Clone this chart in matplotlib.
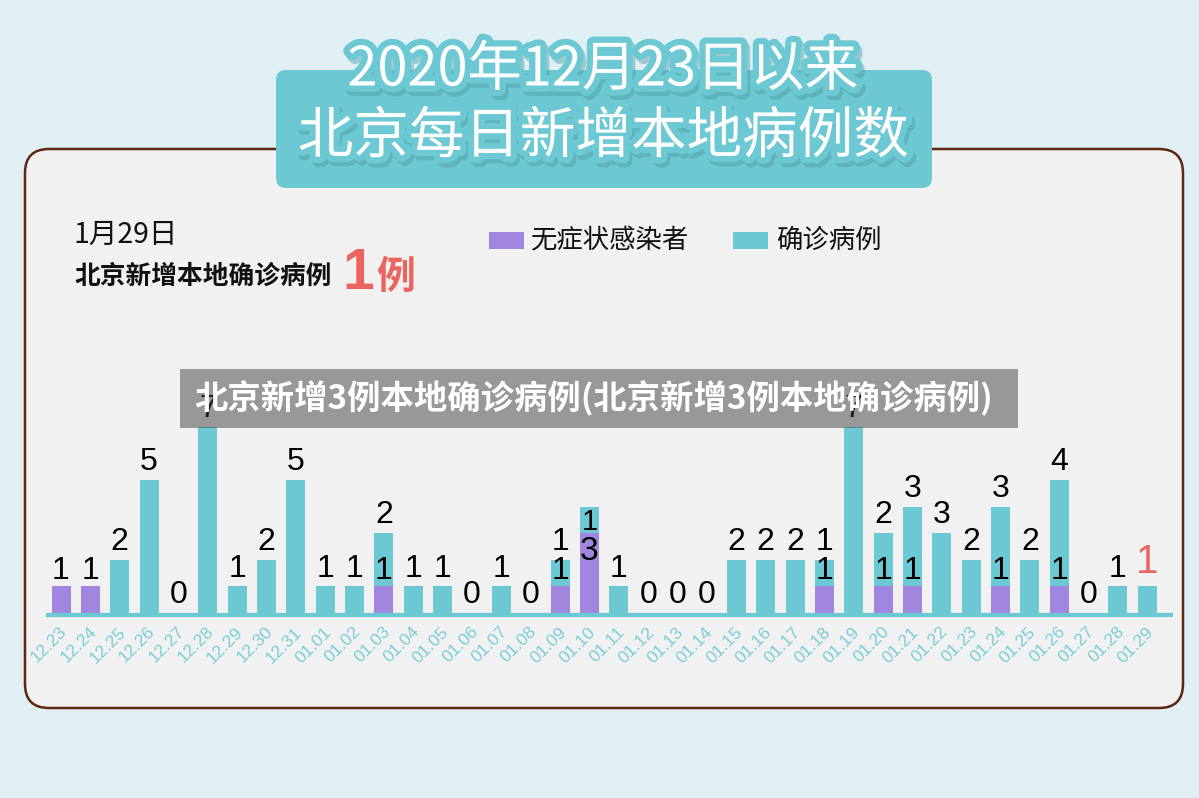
import matplotlib
matplotlib.use('Agg')
import matplotlib.pyplot as plt
from matplotlib.patches import FancyBboxPatch, Rectangle
import matplotlib.patheffects as pe

# ---------------- data ----------------
dates = ['12.23', '12.24', '12.25', '12.26', '12.27', '12.28', '12.29', '12.30', '12.31',
         '01.01', '01.02', '01.03', '01.04', '01.05', '01.06', '01.07', '01.08', '01.09',
         '01.10', '01.11', '01.12', '01.13', '01.14', '01.15', '01.16', '01.17', '01.18',
         '01.19', '01.20', '01.21', '01.22', '01.23', '01.24', '01.25', '01.26', '01.27',
         '01.28', '01.29']
asymptomatic = [1, 1, 0, 0, 0, 0, 0, 0, 0, 0, 0, 1, 0, 0, 0, 0, 0, 1, 3, 0, 0, 0, 0, 0, 0, 0,
                1, 0, 1, 1, 0, 0, 1, 0, 1, 0, 0, 0]
confirmed = [0, 0, 2, 5, 0, 7, 1, 2, 5, 1, 1, 2, 1, 1, 0, 1, 0, 1, 1, 1, 0, 0, 0, 2, 2, 2,
             1, 7, 2, 3, 3, 2, 3, 2, 4, 0, 1, 1]
inside_label_dates = ['01.10']
highlight_date = '01.29'
series_names = ['无症状感染者', '确诊病例']

TEAL = '#6cc9d3'
PURPLE = '#a086de'
TICK = '#7ccdd6'
RED = '#ec6460'
BG = '#e0eff3'
PANEL = '#f1f1f1'
BORDER = '#5c2611'

CJK = ['Noto Sans CJK SC', 'DejaVu Sans']
NUM = ['Liberation Sans', 'DejaVu Sans']

W, H = 1199, 798
fig = plt.figure(figsize=(W / 100, H / 100), dpi=100)
fig.patch.set_facecolor(BG)

# ---------------- decoration axes (pixel coords) ----------------
deco = fig.add_axes([0, 0, 1, 1], zorder=0)
deco.set_xlim(0, W)
deco.set_ylim(H, 0)
deco.axis('off')

panel = FancyBboxPatch((25, 149), 1158, 559, boxstyle='round,pad=0,rounding_size=24',
                       facecolor=PANEL, edgecolor=BORDER, linewidth=1.8)
deco.add_patch(panel)
tbox = FancyBboxPatch((276, 70), 656, 118, boxstyle='round,pad=0,rounding_size=10',
                      facecolor='#6cc8d2', edgecolor='none')
deco.add_patch(tbox)

title_fx = [pe.Stroke(linewidth=9, foreground='#4f9aa4', alpha=0.45, offset=(2, -3)),
            pe.Stroke(linewidth=9, foreground='#6cc8d2'), pe.Normal()]
deco.text(603, 70, '2020年12月23日以来', fontsize=39, color='white', ha='center', va='center',
          family=CJK, fontweight='medium', path_effects=title_fx)
deco.text(603, 137, '北京每日新增本地病例数', fontsize=40, color='white', ha='center', va='center',
          family=CJK, fontweight='medium', path_effects=title_fx)

deco.text(74, 235, '1月29日', fontsize=20.5, color='#111111', ha='left', va='center', family=CJK)
deco.text(74, 276, '北京新增本地确诊病例', fontsize=18.5, color='#111111', ha='left', va='center',
          family=CJK, fontweight='bold')
deco.text(342, 289, '1', fontsize=41, color=RED, ha='left', va='baseline', family=NUM,
          fontweight='bold')
deco.text(376, 289, '例', fontsize=28, color=RED, ha='left', va='baseline', family=CJK,
          fontweight='bold')

# legend
deco.add_patch(Rectangle((489, 232), 35, 17, facecolor=PURPLE, edgecolor='none'))
deco.text(531, 240, series_names[0], fontsize=19, color='#111111', ha='left', va='center', family=CJK)
deco.add_patch(Rectangle((733, 232), 35, 17, facecolor=TEAL, edgecolor='none'))
deco.text(776, 240, series_names[1], fontsize=19, color='#111111', ha='left', va='center', family=CJK)

# ---------------- bar axes ----------------
x0px, x1px = 40, 1180
base_px, unit_px = 613, 26.6
step_px, first_px = 29.36, 61
ymax = 8
ax = fig.add_axes([x0px / W, (H - base_px) / H, (x1px - x0px) / W, ymax * unit_px / H], zorder=1)
ax.set_xlim((x0px - first_px) / step_px, (x1px - first_px) / step_px)
ax.set_ylim(0, ymax)
ax.axis('off')
ax.patch.set_alpha(0)

xs = list(range(len(dates)))
bw = 19 / step_px
ax.bar(xs, asymptomatic, width=bw, color=PURPLE, edgecolor='none')
ax.bar(xs, confirmed, width=bw, bottom=asymptomatic, color=TEAL, edgecolor='none')
ax.plot([-0.51, len(dates) - 0.13], [-0.07, -0.07], color=TEAL, linewidth=3, clip_on=False,
        solid_capstyle='butt')

lab_kw = dict(fontsize=23, family=NUM, color='black', ha='center')
off = 2.0
for i, d in enumerate(dates):
    a, c = asymptomatic[i], confirmed[i]
    inside = d in inside_label_dates
    ax.text(i + 0.12, -0.62, d, rotation=45, rotation_mode='anchor', ha='right', va='center',
            fontsize=12.5, color=TICK, family=NUM)
    if a == 0 and c == 0:
        ax.annotate('0', (i, 0), xytext=(0, off), textcoords='offset points', va='bottom', **lab_kw)
        continue
    if c > 0:
        kw = dict(lab_kw)
        if d == highlight_date:
            kw.update(color=RED, fontsize=29)
            ax.annotate(str(c), (i, a + c), xytext=(0, 4), textcoords='offset points',
                        va='bottom', **kw)
        elif inside:
            ax.annotate(str(c), (i, a + c), xytext=(0, -1), textcoords='offset points',
                        va='top', **dict(kw, fontsize=21))
        else:
            ax.annotate(str(c), (i, a + c), xytext=(0, off), textcoords='offset points',
                        va='bottom', **kw)
    if a > 0:
        if inside:
            ax.annotate(str(a), (i, a), xytext=(0, -2), textcoords='offset points',
                        va='top', **dict(lab_kw, fontsize=24))
        else:
            ax.annotate(str(a), (i, a), xytext=(0, off - 1.5), textcoords='offset points',
                        va='bottom', **lab_kw)

# ---------------- overlay banner ----------------
ov = fig.add_axes([0, 0, 1, 1], zorder=2)
ov.set_xlim(0, W)
ov.set_ylim(H, 0)
ov.axis('off')
ov.patch.set_alpha(0)
ov.add_patch(Rectangle((180, 369), 838, 59, facecolor='#3d3d3d', alpha=0.49, edgecolor='none'))
ov.text(594, 397, '北京新增3例本地确诊病例(北京新增3例本地确诊病例)', fontsize=24, color='white',
        ha='center', va='center', family=CJK, fontweight='black')

fig.savefig('out.png', dpi=100, facecolor=BG)
